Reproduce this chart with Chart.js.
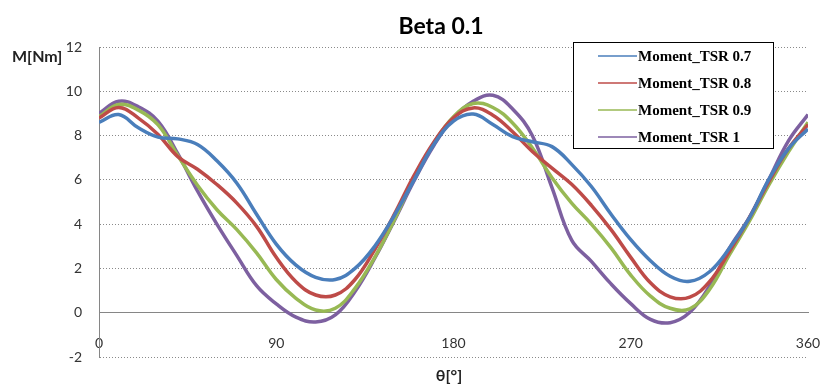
<!DOCTYPE html>
<html>
<head>
<meta charset="utf-8">
<script src="https://cdn.jsdelivr.net/npm/chart.js@4.4.0/dist/chart.umd.min.js"></script>
<style>
  html, body { margin: 0; padding: 0; background: #fff; }
  #chart { display: block; }
</style>
</head>
<body>
<canvas id="chart" width="825" height="387"></canvas>
<script>
// angle in degrees
const angles = [0, 10, 20, 30, 40, 50, 60, 70, 80, 90, 100, 110, 120, 130, 140, 150, 160, 170, 180,
  190, 200, 210, 220, 230, 240, 250, 260, 270, 280, 290, 300, 310, 320, 330, 340, 350, 360];

// moment values, M[Nm]
const tsr07 = [8.6, 8.95, 8.35, 7.93, 7.85, 7.6, 6.85, 5.85, 4.45, 3.1, 2.15, 1.6, 1.5, 2.0, 3.0, 4.4, 6.0, 7.6, 8.65,
  8.97, 8.5, 7.95, 7.72, 7.5, 6.7, 5.7, 4.45, 3.3, 2.35, 1.65, 1.42, 1.85, 2.9, 4.25, 6.0, 7.4, 8.3];
const tsr08 = [8.79, 9.27, 8.79, 8.05, 7.05, 6.48, 5.78, 4.95, 3.9, 2.5, 1.4, 0.8, 0.8, 1.5, 2.85, 4.45, 6.2, 7.7, 8.8,
  9.25, 8.92, 8.17, 7.28, 6.53, 5.8, 4.85, 3.75, 2.5, 1.35, 0.72, 0.7, 1.4, 2.75, 4.25, 5.9, 7.4, 8.5];
const tsr09 = [8.86, 9.4, 9.15, 8.48, 7.1, 5.76, 4.64, 3.75, 2.7, 1.5, 0.65, 0.12, 0.2, 1.1, 2.5, 4.2, 6.1, 7.65, 8.85,
  9.45, 9.27, 8.57, 7.45, 6.1, 4.95, 4.0, 2.93, 1.7, 0.75, 0.2, 0.18, 1.05, 2.6, 4.1, 5.75, 7.25, 8.6];
const tsr10 = [9.0, 9.55, 9.3, 8.64, 7.18, 5.5, 3.98, 2.58, 1.22, 0.4, -0.2, -0.42, -0.1, 0.96, 2.46, 4.17, 5.96, 7.55, 8.8,
  9.55, 9.82, 9.2, 8.0, 5.65, 3.28, 2.32, 1.3, 0.41, -0.3, -0.45, 0.02, 1.2, 2.9, 4.27, 6.0, 7.75, 8.95];

const seriesLabels = ["Moment_TSR 0.7", "Moment_TSR 0.8", "Moment_TSR 0.9", "Moment_TSR 1"];
const seriesColors = ["#4A7EBB", "#BE4B48", "#98B954", "#7D60A0"];
const seriesValues = [tsr07, tsr08, tsr09, tsr10];

const xTicks = [0, 90, 180, 270, 360];
const yTicks = [-2, 0, 2, 4, 6, 8, 10, 12];

const datasets = seriesValues.map((vals, i) => ({
  label: seriesLabels[i],
  data: angles.map((a, j) => ({ x: a, y: vals[j] })),
  borderColor: seriesColors[i],
  borderWidth: 3.5,
  pointRadius: 0,
  tension: 0.4,
  fill: false,
}));

// title, axis names and the boxed legend
const overlay = {
  id: "overlay",
  afterDraw(chart) {
    const ctx = chart.ctx;
    const area = chart.chartArea;
    ctx.save();
    ctx.textBaseline = "middle";
    ctx.fillStyle = "#000";
    ctx.textAlign = "center";
    ctx.font = "bold 23px Lato";
    ctx.fillText("Beta 0.1", 441, 27);

    ctx.fillStyle = "#222";
    ctx.font = "bold 16px Lato";
    ctx.textAlign = "left";
    ctx.fillText("M[Nm]", area.left - 87, area.top + 10);
    ctx.textAlign = "center";
    ctx.fillText("θ[°]", 449, 376);

    // legend
    const bx = 573, by = 42, bw = 200, bh = 106;
    ctx.fillStyle = "#fff";
    ctx.fillRect(bx, by, bw, bh);
    ctx.strokeStyle = "#000";
    ctx.lineWidth = 1;
    ctx.strokeRect(bx + 0.5, by + 0.5, bw, bh);
    ctx.font = "bold 15px 'Liberation Serif'";
    ctx.textAlign = "left";
    chart.data.datasets.forEach((ds, i) => {
      const y = by + 14 + i * 27;
      ctx.strokeStyle = ds.borderColor;
      ctx.lineWidth = 1.5;
      ctx.beginPath();
      ctx.moveTo(bx + 25, y);
      ctx.lineTo(bx + 64, y);
      ctx.stroke();
      ctx.fillStyle = "#000";
      ctx.fillText(ds.label, bx + 65, y + 1);
    });
    ctx.restore();
  }
};

new Chart(document.getElementById("chart"), {
  type: "line",
  data: { datasets: datasets },
  options: {
    responsive: false,
    animation: false,
    layout: { padding: { left: 0, right: 17, top: 47, bottom: 30 } },
    plugins: {
      legend: { display: false },
      tooltip: { enabled: false },
      title: { display: false },
    },
    scales: {
      x: {
        type: "linear",
        position: { y: 0 },
        min: 0,
        max: 360,
        afterBuildTicks: (scale) => { scale.ticks = xTicks.map(v => ({ value: v })); },
        afterFit: (scale) => { scale.paddingRight = 0; scale.paddingLeft = 0; },
        ticks: { color: "#333", font: { family: "Lato", size: 14 }, padding: 22, maxRotation: 0 },
        grid: { display: false, drawTicks: false },
        border: { display: true, color: "#868686", width: 1 },
      },
      y: {
        min: -2,
        max: 12,
        afterBuildTicks: (scale) => { scale.ticks = yTicks.map(v => ({ value: v })); },
        afterFit: (scale) => { scale.width = 99; scale.paddingTop = 0; scale.paddingBottom = 0; },
        ticks: { color: "#333", font: { family: "Lato", size: 14 }, padding: 17 },
        grid: { color: "#8a8a8a", lineWidth: 1, drawTicks: false },
        border: { display: true, color: "#868686", width: 1, dash: [1, 2] },
      },
    },
  },
  plugins: [overlay],
});
</script>
</body>
</html>
